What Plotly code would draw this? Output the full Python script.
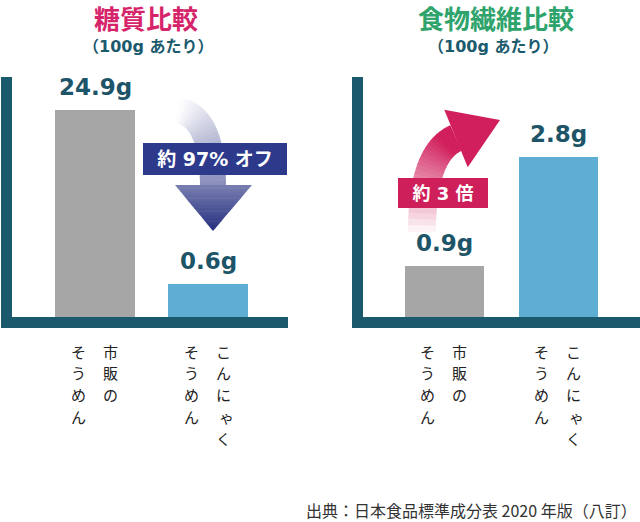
import math
import plotly.graph_objects as go

# ---------------- data ----------------
categories = ["市販のそうめん", "こんにゃくそうめん"]
label_columns = [["市販の", "そうめん"], ["こんにゃく", "そうめん"]]  # right column first (vertical writing)
sugar_values = [24.9, 0.6]
fiber_values = [0.9, 2.8]
sugar_labels = ["24.9g", "0.6g"]
fiber_labels = ["0.9g", "2.8g"]
bar_colors = ["#a6a6a6", "#5eadd3"]
titles = ["糖質比較", "食物繊維比較"]
title_colors = ["#d6246a", "#2ea36b"]
subtitle = "（100g あたり）"
callouts = ["約 97% オフ", "約 3 倍"]
callout_colors = ["#2d3a8c", "#cf1f5b"]
source_text = "出典：日本食品標準成分表 2020 年版（八訂）"

W, H = 640, 522
AXIS_COLOR = "#1b5a6d"
VALUE_COLOR = "#1d5468"
CJK = "Noto Sans CJK JP"
LATIN_CJK = "DejaVu Sans, Noto Sans CJK JP"
SMALL_KANA = set("ゃゅょっぁぃぅぇぉ")


def pp(x, y):
    return x / W, 1 - y / H


def path_from(points):
    parts = []
    for i, (x, y) in enumerate(points):
        px_, py_ = pp(x, y)
        parts.append(("M" if i == 0 else "L") + f"{px_:.5f},{py_:.5f}")
    return " ".join(parts) + " Z"


def qbez(p0, c, p2, t):
    return ((1 - t) ** 2 * p0[0] + 2 * t * (1 - t) * c[0] + t * t * p2[0],
            (1 - t) ** 2 * p0[1] + 2 * t * (1 - t) * c[1] + t * t * p2[1])


def qder(p0, c, p2, t):
    return (2 * (1 - t) * (c[0] - p0[0]) + 2 * t * (p2[0] - c[0]),
            2 * (1 - t) * (c[1] - p0[1]) + 2 * t * (p2[1] - c[1]))


def band(p0, c, p2, hw, t0, t1, n=5):
    left, right = [], []
    for i in range(n + 1):
        t = t0 + (t1 - t0) * i / n
        x, y = qbez(p0, c, p2, t)
        dx, dy = qder(p0, c, p2, t)
        L = math.hypot(dx, dy)
        nx, ny = -dy / L, dx / L
        left.append((x + nx * hw, y + ny * hw))
        right.append((x - nx * hw, y - ny * hw))
    return left + right[::-1]


def mix(hexcol, a, base=(255, 255, 255)):
    r, g, b = int(hexcol[1:3], 16), int(hexcol[3:5], 16), int(hexcol[5:7], 16)
    return "#%02x%02x%02x" % (round(base[0] * (1 - a) + r * a),
                              round(base[1] * (1 - a) + g * a),
                              round(base[2] * (1 - a) + b * a))


shapes = []

# ---- left arrow (down, navy gradient) ----
NAVY = "#262f80"
P0, C, P2 = (178, 110), (213, 117), (213, 187)
N = 24
for i in range(N):
    t0, t1 = i / N, min(1.0, (i + 1.2) / N)
    a = 0.55 * ((i + 0.5) / N) ** 1.1
    shapes.append(dict(type="path", xref="paper", yref="paper",
                       path=path_from(band(P0, C, P2, 13, t0, t1, n=3)),
                       fillcolor=mix(NAVY, a), line=dict(width=0), layer="above"))
# head with vertical gradient
hy0, hy1, hxl, hxr, hxc = 185, 231, 175, 252, 213
M = 14
for i in range(M):
    f0, f1 = i / M, min(1.0, (i + 1.15) / M)
    ya, yb = hy0 + (hy1 - hy0) * f0, hy0 + (hy1 - hy0) * f1
    xla, xra = hxl + (hxc - hxl) * f0, hxr + (hxc - hxr) * f0
    xlb, xrb = hxl + (hxc - hxl) * f1, hxr + (hxc - hxr) * f1
    a = 0.62 + 0.38 * (i + 0.5) / M
    shapes.append(dict(type="path", xref="paper", yref="paper",
                       path=path_from([(xla, ya), (xra, ya), (xrb, yb), (xlb, yb)]),
                       fillcolor=mix(NAVY, a), line=dict(width=0), layer="above"))

# ---- right arrow (up-right, magenta gradient) ----
MAG = "#d01f5c"
Q0, QC, Q2 = (422, 232), (422, 153), (456, 138)
for i in range(N):
    t0, t1 = i / N, min(1.0, (i + 1.2) / N)
    a = min(1.0, 1.15 * ((i + 0.5) / N) ** 0.8)
    shapes.append(dict(type="path", xref="paper", yref="paper",
                       path=path_from(band(Q0, QC, Q2, 14, t0, t1, n=3)),
                       fillcolor=mix(MAG, a), line=dict(width=0), layer="above"))
d = (44 / 47.54, -18 / 47.54)
nrm = (-d[1], d[0])
base_c = (456, 138.5)
tip = (500, 120)
c1 = (base_c[0] + nrm[0] * 31, base_c[1] + nrm[1] * 31)
c2 = (base_c[0] - nrm[0] * 31, base_c[1] - nrm[1] * 31)
shapes.append(dict(type="path", xref="paper", yref="paper",
                   path=path_from([c2, tip, c1]),
                   fillcolor=MAG, line=dict(width=0), layer="above"))

# ---------------- traces ----------------
fig = go.Figure()
fig.add_trace(go.Bar(x=categories, y=sugar_values, marker=dict(color=bar_colors, line=dict(width=0)),
                     width=0.708, xaxis="x", yaxis="y", hoverinfo="skip"))
fig.add_trace(go.Bar(x=categories, y=fiber_values, marker=dict(color=bar_colors, line=dict(width=0)),
                     width=0.69, xaxis="x2", yaxis="y2", hoverinfo="skip"))

annotations = []
value_font = dict(family="DejaVu Sans", size=23, color=VALUE_COLOR, weight="bold")
# value labels
for cat, v, lab in zip(categories, sugar_values, sugar_labels):
    annotations.append(dict(x=cat, y=math.log10(v), xref="x", yref="y", text=lab, showarrow=False,
                            yanchor="middle", yshift=23, font=value_font))
for cat, v, lab in zip(categories, fiber_values, fiber_labels):
    annotations.append(dict(x=cat, y=v, xref="x2", yref="y2", text=lab, showarrow=False,
                            yanchor="middle", yshift=23, font=value_font))

# vertical category labels (one character per cell, columns right-to-left)
PITCH, TOP = 21.8, 351
for xr in ("x", "x2"):
    for cat, cols in zip(categories, label_columns):
        for ci, col in enumerate(cols):
            for k, ch in enumerate(col):
                small = ch in SMALL_KANA
                annotations.append(dict(x=cat, xref=xr, y=pp(0, TOP + k * PITCH)[1], yref="paper",
                                        text=ch, showarrow=False,
                                        xanchor="center", yanchor="middle",
                                        xshift=(15 if ci == 0 else -17) + (3 if small else 0),
                                        font=dict(family=CJK, size=15, color="#222222")))

# titles & subtitles
for cx, title, col in zip((146, 496), titles, title_colors):
    x, y = pp(cx, 17)
    annotations.append(dict(x=x, y=y, xref="paper", yref="paper", text=title, showarrow=False,
                            xanchor="center", yanchor="middle",
                            font=dict(family=CJK, size=26, color=col, weight="bold")))
for cx in (148, 493):
    x, y = pp(cx, 47)
    annotations.append(dict(x=x, y=y, xref="paper", yref="paper", text=subtitle, showarrow=False,
                            xanchor="center", yanchor="middle",
                            font=dict(family=LATIN_CJK, size=16, color=AXIS_COLOR, weight="bold")))

# callout boxes
for (cx, cy, w, h, fs), txt, col in zip(((215, 159, 144, 32, 19), (443, 193, 90, 30, 18)),
                                         callouts, callout_colors):
    x, y = pp(cx, cy)
    annotations.append(dict(x=x, y=y, xref="paper", yref="paper", text=txt, showarrow=False,
                            xanchor="center", yanchor="middle", width=w, height=h,
                            bgcolor=col, borderpad=0, borderwidth=0,
                            font=dict(family=LATIN_CJK, size=fs, color="white", weight="bold")))

# source
x, y = pp(639, 510)
annotations.append(dict(x=x, y=y, xref="paper", yref="paper", text=source_text, showarrow=False,
                        xanchor="right", yanchor="middle",
                        font=dict(family=CJK, size=16, color="#333333")))

axis_common = dict(showline=True, linewidth=11, linecolor=AXIS_COLOR, showgrid=False,
                   zeroline=False, ticks="", showticklabels=False, fixedrange=True)
ydom = [1 - 317 / H, 1 - 77 / H]

fig.update_layout(
    width=W, height=H,
    margin=dict(l=0, r=0, t=0, b=0),
    paper_bgcolor="white", plot_bgcolor="white",
    showlegend=False, bargap=0,
    xaxis=dict(domain=[12 / W, 288 / W], range=[-0.735, 1.708], anchor="y", **axis_common),
    yaxis=dict(domain=ydom, type="log", range=[-0.529, 1.704], anchor="x", **axis_common),
    xaxis2=dict(domain=[363 / W, 1], range=[-0.715, 1.715], anchor="y2", **axis_common),
    yaxis2=dict(domain=ydom, range=[0, 4.2], anchor="x2", **axis_common),
    shapes=shapes,
    annotations=annotations,
)

fig.write_html("out.html", config={"displayModeBar": False},
               post_script="document.body.style.margin='0px';document.body.style.overflow='hidden';")
